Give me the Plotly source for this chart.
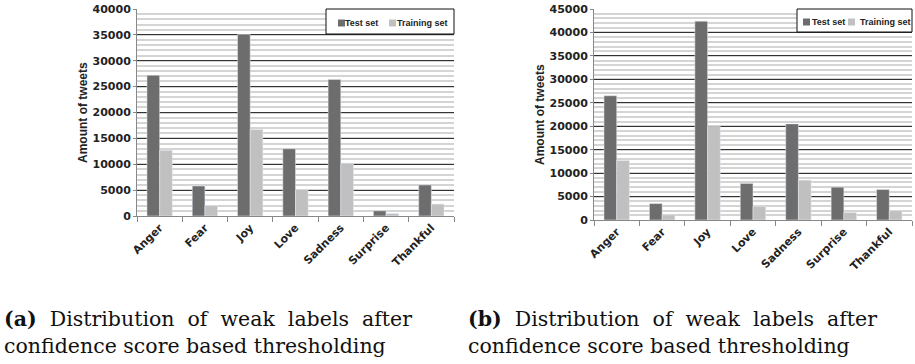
import plotly.graph_objects as go

categories = ["Anger", "Fear", "Joy", "Love", "Sadness", "Surprise", "Thankful"]
test_a = [27200, 5800, 35100, 13000, 26400, 1000, 6000]
train_a = [12700, 2000, 16700, 5000, 10200, 500, 2300]
test_b = [26500, 3500, 42400, 7800, 20500, 7000, 6500]
train_b = [12700, 1100, 20000, 2900, 8500, 1600, 2000]
yticks_a = [0, 5000, 10000, 15000, 20000, 25000, 30000, 35000, 40000]
yticks_b = [0, 5000, 10000, 15000, 20000, 25000, 30000, 35000, 40000, 45000]
series_names = ["Test set", "Training set"]
y_title = "Amount of tweets"
caption_line1 = ["<b>(a)</b>&nbsp; Distribution&nbsp; of&nbsp; weak&nbsp; labels&nbsp; after",
                 "<b>(b)</b>&nbsp; Distribution&nbsp; of&nbsp; weak&nbsp; labels&nbsp; after"]
caption_line2 = ["confidence score based thresholding", "confidence score based thresholding"]

DARK = "#6d6d6d"
LIGHT = "#c0c0c0"
COLORS = [DARK, LIGHT]
W, H = 915, 364

fig = go.Figure()
fig.add_trace(go.Bar(x=categories, y=test_a, name=series_names[0], marker_color=DARK,
                     xaxis="x", yaxis="y"))
fig.add_trace(go.Bar(x=categories, y=train_a, name=series_names[1], marker_color=LIGHT,
                     xaxis="x", yaxis="y"))
fig.add_trace(go.Bar(x=categories, y=test_b, name=series_names[0], marker_color=DARK,
                     xaxis="x2", yaxis="y2"))
fig.add_trace(go.Bar(x=categories, y=train_b, name=series_names[1], marker_color=LIGHT,
                     xaxis="x2", yaxis="y2"))

tickfont = dict(family="DejaVu Sans", size=11, color="#222", weight="bold")
catfont = dict(family="DejaVu Sans", size=11, color="#222", weight="bold")

def xax(domain, anchor):
    return dict(domain=domain, anchor=anchor, type="category", tickangle=-45,
                tickfont=catfont, ticks="outside", tickson="boundaries", ticklen=5,
                tickcolor="#888", showline=True, linecolor="#888", linewidth=1,
                showgrid=False, fixedrange=True, automargin=False)

def yax(domain, anchor, rng, vals):
    return dict(domain=domain, anchor=anchor, range=rng, tickvals=vals,
                ticktext=[str(v) for v in vals], tickfont=tickfont,
                ticks="outside", ticklen=3, tickcolor="#888",
                showline=True, linecolor="#888", linewidth=1,
                showgrid=True, gridcolor="#333", gridwidth=1, zeroline=False,
                minor=dict(dtick=1000, showgrid=True, gridcolor="#d4d4d4", gridwidth=1.5, ticks=""),
                fixedrange=True, automargin=False)

fig.update_layout(
    width=W, height=H,
    margin=dict(l=0, r=0, t=0, b=0, pad=0, autoexpand=False),
    paper_bgcolor="white", plot_bgcolor="white",
    barmode="group", bargap=0.44, bargroupgap=0,
    font=dict(family="Liberation Sans, Arial"),
    xaxis=xax([137 / W, 454 / W], "y"),
    yaxis=yax([1 - 216 / H, 1 - 9 / H], "x", [0, 40000], yticks_a),
    xaxis2=xax([594 / W, 912 / W], "y2"),
    yaxis2=yax([1 - 220 / H, 1 - 9 / H], "x2", [0, 45000], yticks_b),
    showlegend=False,
)

# y-axis titles
for xpx, ypx in [(83, 113), (540, 115)]:
    fig.add_annotation(text="<b>%s</b>" % y_title, textangle=-90, xref="paper", yref="paper",
                       x=xpx / W, y=1 - ypx / H, xanchor="center", yanchor="middle",
                       showarrow=False,
                       font=dict(family="Liberation Sans, Arial", size=12, color="#222"))

# legends (box, swatches, labels) in pixel layout
legend_specs = [
    dict(box=(326, 9, 454, 34), sw=[338, 389], tx=[345, 397], yc=23),
    dict(box=(797, 9, 912, 32), sw=[803, 848], tx=[812, 860], yc=22),
]
for spec in legend_specs:
    x0, y0, x1, y1 = spec["box"]
    fig.add_shape(type="rect", xref="paper", yref="paper",
                  x0=x0 / W, x1=x1 / W, y0=1 - y1 / H, y1=1 - y0 / H,
                  line=dict(color="#111", width=1), fillcolor="white", layer="above")
    for k in range(2):
        sx = spec["sw"][k]
        yc = spec["yc"]
        fig.add_shape(type="rect", xref="paper", yref="paper",
                      x0=sx / W, x1=(sx + 7) / W, y0=1 - (yc + 3.5) / H, y1=1 - (yc - 3.5) / H,
                      line=dict(width=0), fillcolor=COLORS[k], layer="above")
        fig.add_annotation(text="<b>%s</b>" % series_names[k], xref="paper", yref="paper",
                           x=spec["tx"][k] / W, y=1 - yc / H, xanchor="left", yanchor="middle",
                           showarrow=False, xshift=-2,
                           font=dict(family="Liberation Sans, Arial", size=9, color="#222"))

# captions
for i in range(2):
    x0 = 2 if i == 0 else 466
    fig.add_annotation(text=caption_line1[i], xref="paper", yref="paper", x=x0 / W,
                       y=1 - 319 / H, xanchor="left", yanchor="middle", align="left",
                       showarrow=False,
                       font=dict(family="DejaVu Serif", size=20.5, color="#111"))
    fig.add_annotation(text=caption_line2[i], xref="paper", yref="paper", x=x0 / W,
                       y=1 - 346 / H, xanchor="left", yanchor="middle", align="left",
                       showarrow=False,
                       font=dict(family="DejaVu Serif", size=20.5, color="#111"))

fig.write_html("out.html", config={"displayModeBar": False},
               post_script="document.body.style.margin='0';document.body.style.overflow='hidden';")
